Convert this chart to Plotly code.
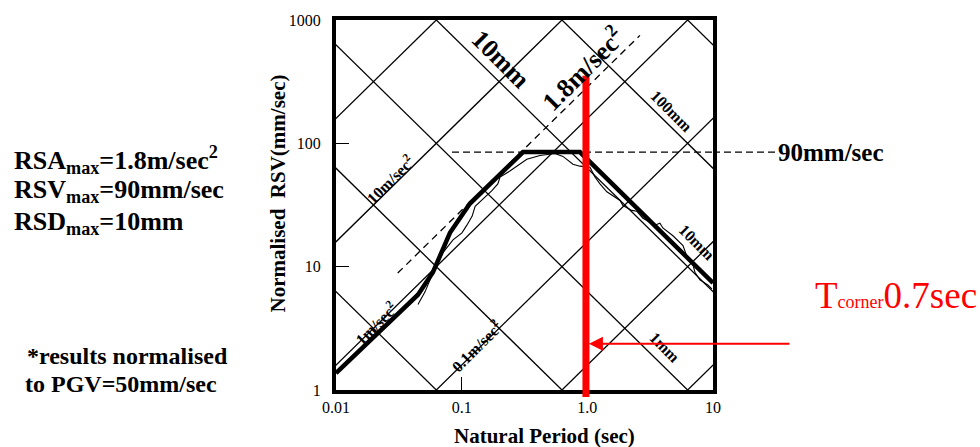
import math
import plotly.graph_objects as go

# ---------------- data ----------------
x_tickvals = [0.01, 0.1, 1, 10]
x_ticktext = ["0.01", "0.1", "1.0", "10"]
y_tickvals = [1, 10, 100, 1000]
y_ticktext = ["1", "10", "100", "1000"]

accel_levels = [0.001, 0.01, 0.1, 1, 10, 100]   # m/sec^2 (constant-acceleration diagonals)
disp_levels = [0.01, 0.1, 1, 10, 100, 1000]     # mm (constant-displacement diagonals)

design_T = [0.01, 0.0449, 0.0591, 0.0807, 0.1164, 0.308, 0.873, 10]
design_V = [1.37, 5.92, 9.02, 18.8, 32.5, 85, 85, 7.38]

measured_T = [0.0449, 0.0511, 0.0581, 0.0637, 0.0710, 0.0853, 0.1005, 0.110, 0.121,
              0.128, 0.140, 0.159, 0.174, 0.194, 0.202, 0.242, 0.291, 0.330, 0.420,
              0.552, 0.640, 0.768, 0.873, 1.05, 1.15, 1.26, 1.43, 1.82, 1.92, 2.26,
              2.48, 2.77, 3.45, 3.78, 3.99, 4.80, 5.77, 6.31, 6.92, 7.18, 7.87, 9.10, 9.80]
measured_V = [4.93, 6.25, 8.55, 10.3, 13.0, 16.5, 18.8, 21.7, 25.6, 30.8, 33.7, 37.6,
              41.3, 46.9, 53.3, 59.6, 67.7, 74.2, 79.8, 82.8, 78.3, 67.7, 65.3, 64.1,
              53.3, 46.9, 40.5, 34.4, 31.3, 28.6, 28.1, 24.7, 21.7, 22.5, 20.6, 17.8,
              14.8, 11.5, 10.4, 9.02, 7.80, 7.11, 6.61]

rsa_max = 1.8            # m/sec^2
rsa_line_T = [0.031, 2.62]
rsv_line_V = 85          # mm/sec (drawn level of the 90mm/sec line)
rsv_line_T = [0.0838, 10]
t_corner = 0.975         # drawn position of the red corner line
arrow_V = 2.37

grid_T_span = [0.003, 30]

SERIF = "Liberation Serif"

fig = go.Figure()

# constant-acceleration diagonals  V = A*T/(2*pi)
for a in accel_levels:
    fig.add_trace(go.Scatter(
        x=grid_T_span, y=[a * 1000 * t / (2 * math.pi) for t in grid_T_span],
        mode="lines", line=dict(color="black", width=1.3), hoverinfo="skip"))
# constant-displacement diagonals  V = 2*pi*D/T
for d in disp_levels:
    fig.add_trace(go.Scatter(
        x=grid_T_span, y=[2 * math.pi * d / t for t in grid_T_span],
        mode="lines", line=dict(color="black", width=1.3), hoverinfo="skip"))

# 1.8 m/sec^2 dashed line
fig.add_trace(go.Scatter(
    x=rsa_line_T, y=[rsa_max * 1000 * t / (2 * math.pi) for t in rsa_line_T],
    mode="lines", line=dict(color="black", width=1.3, dash="7px,5px")))
# 90 mm/sec dashed line (inside)
fig.add_trace(go.Scatter(
    x=rsv_line_T, y=[rsv_line_V, rsv_line_V],
    mode="lines", line=dict(color="black", width=1.3, dash="7px,4px")))

# measured spectrum (thin) and design envelope (thick)
fig.add_trace(go.Scatter(x=measured_T, y=measured_V, mode="lines",
                         line=dict(color="black", width=1.1)))
fig.add_trace(go.Scatter(x=design_T, y=design_V, mode="lines",
                         line=dict(color="black", width=4.5)))

# 90mm/sec dashed line continuing outside the frame
fig.add_shape(type="line", xref="paper", yref="y", x0=1.0, x1=1.1645,
              y0=rsv_line_V, y1=rsv_line_V,
              line=dict(color="black", width=1.3, dash="7px,4px"))
# red corner line
fig.add_shape(type="line", xref="x", yref="paper", x0=t_corner, x1=t_corner,
              y0=-0.019, y1=0.849, line=dict(color="#ff0000", width=7))

L = math.log10
ann = []


def grid_label(text, T, V, angle, size):
    ann.append(dict(x=L(T), y=L(V), xref="x", yref="y", text=text, showarrow=False,
                    textangle=angle, font=dict(family=SERIF, size=size, color="black",
                                               weight="bold")))


grid_label("10m/sec<sup>2</sup>", 0.0269, 51.4, -45, 16)
grid_label("1m/sec<sup>2</sup>", 0.0208, 3.48, -45, 16)
grid_label("0.1m/sec<sup>2</sup>", 0.130, 2.29, -45, 16)
grid_label("1mm", 4.14, 2.20, 45, 16)
grid_label("10mm", 7.45, 15.6, 45, 16)
grid_label("100mm", 4.71, 182, 45, 16)
grid_label("10mm", 0.2055, 481, 45, 26)
grid_label("1.8m/sec<sup>2</sup>", 0.906, 408, -45, 26)

# arrow pointing at the corner line
ann.append(dict(x=L(t_corner), y=L(arrow_V), xref="x", yref="y", text="",
                showarrow=True, ax=205, ay=0, arrowhead=2, arrowsize=1.4,
                arrowwidth=2, arrowcolor="#ff0000", standoff=3))

# outside texts
ann.append(dict(x=1.168, y=L(rsv_line_V), xref="paper", yref="y", text="90mm/sec",
                showarrow=False, xanchor="left", yanchor="middle",
                font=dict(family=SERIF, size=25, color="black", weight="bold")))
ann.append(dict(x=1.265, y=0.255, xref="paper", yref="paper",
                text="T<span style='font-size:18px'>corner</span>0.7sec",
                showarrow=False, xanchor="left", yanchor="middle",
                font=dict(family=SERIF, size=37, color="#ff0000")))

left_lines = ["RSA<sub>max</sub>=1.8m/sec<sup>2</sup>",
              "RSV<sub>max</sub>=90mm/sec",
              "RSD<sub>max</sub>=10mm"]
for i, t in enumerate(left_lines):
    ann.append(dict(x=-0.859, y=0.622 - i * 0.085, xref="paper", yref="paper", text=t,
                    showarrow=False, xanchor="left", yanchor="middle",
                    font=dict(family=SERIF, size=26, color="black", weight="bold")))
for i, t in enumerate(["*results normalised", "to PGV=50mm/sec"]):
    ann.append(dict(x=-0.826 - i * 0.005, y=0.092 - i * 0.075, xref="paper", yref="paper",
                    text=t, showarrow=False, xanchor="left", yanchor="middle",
                    font=dict(family=SERIF, size=24, color="black", weight="bold")))

# axis titles
ann.append(dict(x=0.552, y=-0.125, xref="paper", yref="paper", text="Natural Period (sec)",
                showarrow=False, xanchor="center", yanchor="middle",
                font=dict(family=SERIF, size=21, color="black", weight="bold")))
ann.append(dict(x=-0.154, y=0.531, xref="paper", yref="paper",
                text="Normalised\u00a0 RSV(mm/sec)", textangle=-90,
                showarrow=False, xanchor="center", yanchor="middle",
                font=dict(family=SERIF, size=21, color="black", weight="bold")))

fig.update_layout(
    width=980, height=447,
    margin=dict(l=336, r=267, t=13, b=57),
    paper_bgcolor="white", plot_bgcolor="white",
    showlegend=False,
    annotations=ann,
    xaxis=dict(type="log", range=[-2, 1], tickvals=x_tickvals, ticktext=x_ticktext,
               ticks="inside", ticklen=13, tickwidth=1.3, tickcolor="black",
               showgrid=False, zeroline=False, showline=True, linewidth=4,
               linecolor="black", mirror=True,
               tickfont=dict(family=SERIF, size=16, color="black")),
    yaxis=dict(type="log", range=[0, 3], tickvals=y_tickvals, ticktext=y_ticktext,
               ticks="inside", ticklen=13, tickwidth=1.3, tickcolor="black",
               showgrid=False, zeroline=False, showline=True, linewidth=4,
               linecolor="black", mirror=True, ticklabelstandoff=8,
               tickfont=dict(family=SERIF, size=16, color="black")),
)

fig.write_html("out.html")
